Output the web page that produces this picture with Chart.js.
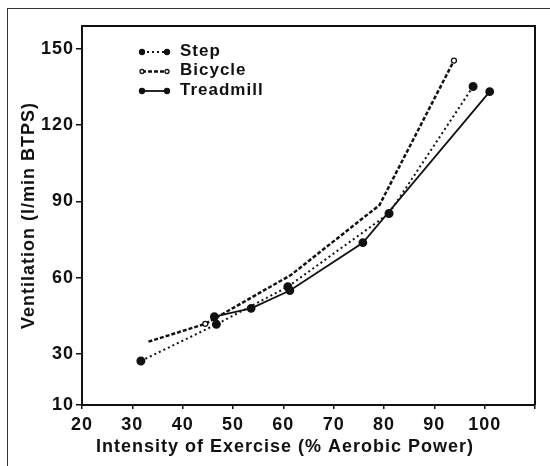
<!DOCTYPE html>
<html>
<head>
<meta charset="utf-8">
<title>Ventilation vs Intensity of Exercise</title>
<script src="https://cdn.jsdelivr.net/npm/chart.js@4"></script>
<style>
    html, body { margin: 0; padding: 0; background: #fff; }
    #wrap { position: relative; width: 550px; height: 466px; overflow: hidden; }
    #frame {
        position: absolute; left: 7px; top: 8px; width: 600px; height: 500px;
        border-left: 1.5px solid #333; border-top: 1.5px solid #333;
        pointer-events: none;
    }
</style>
</head>
<body>
<div id="wrap">
    <canvas id="chart" width="550" height="466"></canvas>
    <div id="frame"></div>
</div>
<script>
// Data
const seriesNames = ["Step", "Bicycle", "Treadmill"];

const stepX = [31.7, 46.7, 60.9, 81.0, 97.7];
const stepY = [27.3, 41.7, 56.5, 85.3, 135.2];

const bicycleX = [33.2, 44.5, 61.5, 79.1, 93.9];
const bicycleY = [34.9, 41.9, 61.1, 88.6, 145.4];

const treadmillX = [46.3, 53.6, 61.3, 75.8, 101.0];
const treadmillY = [44.7, 48.0, 55.0, 73.8, 133.2];

const xTickLabels = [20, 30, 40, 50, 60, 70, 80, 90, 100];
const yTickLabels = [10, 30, 60, 90, 120, 150];

const xTitle = "Intensity of Exercise (% Aerobic Power)";
const yTitle = "Ventilation (l/min BTPS)";

const FONT = '"Liberation Sans", Arial, sans-serif';
const INK = "#111";

// zip x/y arrays into points
function toPoints(xs, ys) {
    return xs.map((x, i) => ({ x: x, y: ys[i] }));
}

// Plot box, legend and x title drawn on top of the chart
const paperPlugin = {
    id: "paper",
    beforeDraw(chart) {
        chart.ctx.letterSpacing = "1px";
    },
    afterDraw(chart) {
        const ctx = chart.ctx;
        const area = chart.chartArea;
        ctx.save();

        // top and right edges of the box
        ctx.strokeStyle = INK;
        ctx.lineWidth = 2;
        ctx.beginPath();
        ctx.moveTo(area.left, area.top);
        ctx.lineTo(area.right, area.top);
        ctx.lineTo(area.right, area.bottom);
        ctx.stroke();

        // legend in the upper left corner
        const x0 = area.left + 60;
        const x1 = area.left + 85;
        chart.data.datasets.forEach((ds, i) => {
            const y = area.top + 26 + i * 19.5;
            ctx.setLineDash(ds.borderDash || []);
            ctx.lineWidth = ds.borderWidth;
            ctx.strokeStyle = ds.borderColor;
            ctx.beginPath();
            ctx.moveTo(x0, y);
            ctx.lineTo(x1, y);
            ctx.stroke();
            ctx.setLineDash([]);
            [x0, x1].forEach((px) => {
                ctx.beginPath();
                ctx.arc(px, y, ds.legendRadius, 0, Math.PI * 2);
                ctx.fillStyle = ds.pointBackgroundColor;
                ctx.fill();
                ctx.lineWidth = 1.3;
                ctx.strokeStyle = INK;
                ctx.stroke();
            });
            ctx.fillStyle = INK;
            ctx.font = "bold 17px " + FONT;
            ctx.textAlign = "left";
            ctx.textBaseline = "middle";
            ctx.fillText(ds.label, x1 + 13, y - 1);
        });

        // x axis title
        ctx.font = "bold 18px " + FONT;
        ctx.textAlign = "center";
        ctx.textBaseline = "middle";
        ctx.fillStyle = INK;
        ctx.fillText(xTitle, 285, 447);

        ctx.restore();
        ctx.letterSpacing = "0px";
    },
};

const tickFont = { family: FONT, size: 18, weight: "bold" };

new Chart(document.getElementById("chart"), {
    type: "line",
    data: {
        datasets: [
            {
                label: seriesNames[0],
                data: toPoints(stepX, stepY),
                borderColor: INK,
                borderWidth: 2,
                borderDash: [2, 3],
                pointRadius: 3.5,
                pointBackgroundColor: INK,
                pointBorderColor: INK,
                legendRadius: 2.5,
            },
            {
                label: seriesNames[1],
                data: toPoints(bicycleX, bicycleY),
                borderColor: INK,
                borderWidth: 2.5,
                borderDash: [4, 2],
                pointRadius: [0, 2.5, 0, 0, 2.5],
                pointBorderWidth: 1.3,
                pointBackgroundColor: "#fff",
                pointBorderColor: INK,
                legendRadius: 2,
            },
            {
                label: seriesNames[2],
                data: toPoints(treadmillX, treadmillY),
                borderColor: INK,
                borderWidth: 1.8,
                pointRadius: 3.5,
                pointBackgroundColor: INK,
                pointBorderColor: INK,
                legendRadius: 2.5,
            },
        ],
    },
    options: {
        responsive: false,
        animation: false,
        layout: {
            padding: { left: 0, top: 26, right: 15, bottom: 0 },
        },
        elements: {
            line: { tension: 0 },
        },
        scales: {
            x: {
                type: "linear",
                min: 20,
                max: 110,
                afterFit(scale) {
                    scale.height = 61;
                },
                ticks: {
                    stepSize: 10,
                    color: INK,
                    font: tickFont,
                    padding: 5,
                    maxRotation: 0,
                    callback: (v) => (xTickLabels.includes(v) ? String(v) : ""),
                },
                grid: {
                    drawOnChartArea: false,
                    drawTicks: true,
                    tickLength: 4,
                    color: INK,
                    lineWidth: 1.5,
                },
                border: { display: true, color: INK, width: 2 },
            },
            y: {
                type: "linear",
                min: 10,
                max: 159,
                afterBuildTicks(scale) {
                    scale.ticks = yTickLabels.map((v) => ({ value: v }));
                },
                afterFit(scale) {
                    scale.width = 82;
                },
                ticks: {
                    color: INK,
                    font: tickFont,
                    padding: 2,
                },
                grid: {
                    drawOnChartArea: false,
                    drawTicks: true,
                    tickLength: 6,
                    color: INK,
                    lineWidth: 1.5,
                },
                border: { display: true, color: INK, width: 2 },
                title: {
                    display: true,
                    text: yTitle,
                    color: INK,
                    font: { family: FONT, size: 18, weight: "bold" },
                    padding: { top: 18, bottom: 0 },
                },
            },
        },
        plugins: {
            legend: { display: false },
            tooltip: { enabled: false },
        },
    },
    plugins: [paperPlugin],
});
</script>
</body>
</html>
